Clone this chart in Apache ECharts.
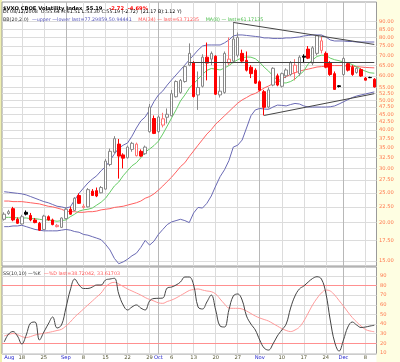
<!DOCTYPE html>
<html><head><meta charset="utf-8">
<script src="https://cdn.jsdelivr.net/npm/echarts@6/dist/echarts.min.js"></script>
<style>html,body{margin:0;padding:0;background:#fff}#c{width:400px;height:362px}</style>
</head><body><div id="c"></div>
<script>
const dates = ['2008-08-12','2008-08-13','2008-08-14','2008-08-15','2008-08-18','2008-08-19','2008-08-20','2008-08-21','2008-08-22','2008-08-25','2008-08-26','2008-08-27','2008-08-28','2008-08-29',
'2008-09-02','2008-09-03','2008-09-04','2008-09-05','2008-09-08','2008-09-09','2008-09-10','2008-09-11','2008-09-12','2008-09-15','2008-09-16','2008-09-17','2008-09-18','2008-09-19','2008-09-22','2008-09-23','2008-09-24','2008-09-25','2008-09-26','2008-09-29','2008-09-30',
'2008-10-01','2008-10-02','2008-10-03','2008-10-06','2008-10-07','2008-10-08','2008-10-09','2008-10-10','2008-10-13','2008-10-14','2008-10-15','2008-10-16','2008-10-17','2008-10-20','2008-10-21','2008-10-22','2008-10-23','2008-10-24','2008-10-27','2008-10-28','2008-10-29','2008-10-30','2008-10-31',
'2008-11-03','2008-11-04','2008-11-05','2008-11-06','2008-11-07','2008-11-10','2008-11-11','2008-11-12','2008-11-13','2008-11-14','2008-11-17','2008-11-18','2008-11-19','2008-11-20','2008-11-21','2008-11-24','2008-11-25','2008-11-26','2008-11-28',
'2008-12-01','2008-12-02','2008-12-03','2008-12-04','2008-12-05','2008-12-08','2008-12-09','2008-12-10'];
const open  = [20.5,21.4,22.2,20.5,19.8,21.6,21.1,20.4,19.9,19.0, 20.9,20.4,19.4,19.3,20.6,22.1,21.9,24.5,22.4,22.5, 25.3,25.4,25.0,25.7,30.9,33.9,36.0,33.2,32.5,34.6, 33.0,34.1,33.5,39.5,43.6,39.5,41.5,44.0,44.5,51.3, 53.0,57.5,65.0,66.2,52.0,55.5,69.0,68.0,69.5,52.0, 53.0,66.0,67.0,70.0,71.0,67.4,64.0,62.6,57.4,53.3, 47.5,56.0,60.0,55.5,60.0,60.6,61.5,61.0,69.5,73.3, 66.0,71.0,72.6,71.0,66.0,61.0,55.7,60.6,65.7,64.0, 61.5,62.9,59.0,59.3,58.5];
const high  = [21.6,22.0,22.5,20.8,21.2,21.9,21.5,20.7,20.1,21.2, 21.1,20.6,19.8,20.8,22.4,22.5,24.2,24.9,23.0,25.9, 25.7,26.0,26.3,32.2,34.8,38.2,37.4,33.6,35.6,36.6, 36.4,34.6,35.6,48.6,44.6,44.6,45.5,47.0,54.0,58.0, 58.6,65.0,76.5,67.0,62.0,70.5,77.0,72.0,70.0,60.0, 72.0,80.0,89.5,83.0,73.0,72.0,65.0,63.5,58.0,54.0, 55.0,64.0,61.0,61.5,63.5,67.0,68.0,70.0,70.5,75.0, 75.0,81.3,80.5,72.0,67.0,62.0,56.0,69.0,66.5,65.0, 64.0,63.5,59.5,59.6,59.0];
const low   = [20.3,21.2,20.2,19.8,19.7,21.1,20.2,19.9,18.8,18.9, 20.3,19.6,19.3,19.2,20.5,21.2,21.8,23.0,22.2,22.4, 24.4,24.2,24.9,25.6,30.5,33.6,27.8,30.0,32.3,34.0, 32.8,32.7,33.2,39.2,38.8,39.2,40.8,42.0,44.3,51.0, 52.5,57.0,64.5,51.0,46.5,55.0,58.0,65.0,52.0,51.0, 52.5,65.0,66.0,69.0,66.0,62.0,59.0,56.5,53.5,44.6, 47.0,55.5,55.5,55.0,59.0,60.0,58.0,60.0,66.0,68.0, 65.0,70.0,71.0,63.5,60.0,54.0,55.0,60.0,62.0,60.0, 61.0,59.5,58.0,59.0,55.0];
const close = [21.3,21.7,20.4,19.9,20.9,21.3,20.4,20.0,18.9,21.0, 20.4,19.7,19.6,20.7,22.1,21.3,24.0,23.1,22.6,25.6, 24.5,24.4,26.0,31.7,34.1,37.5,32.9,32.4,35.2,36.2, 36.0,32.9,35.2,47.5,39.0,44.1,43.5,45.0,52.5,57.5, 58.0,64.3,71.0,51.4,55.0,69.0,66.0,71.0,52.3,53.5, 71.0,68.0,79.0,80.0,67.0,62.6,61.0,56.8,53.9,47.4, 54.0,63.5,56.0,61.0,62.7,66.2,65.0,69.0,69.0,68.5, 74.0,81.0,78.0,64.0,60.6,54.2,55.4,68.3,62.6,60.6, 63.5,59.9,58.1,59.2,55.19];
const bbUpper = [25.2,25.1,25.0,24.9,24.8,24.6,24.3,24.0,23.7,23.4, 23.2,22.9,22.6,22.5,22.3,22.5,23.7,24.9,25.9,26.9, 27.7,28.4,29.5,30.4,31.8,33.4,34.9,35.7,36.3,38.2, 40.6,42.8,44.1,46.5,49.5,52.0,53.6,56.0,58.2,60.4, 62.7,65.1,67.6,70.1,72.8,75.0,75.6,75.6,75.6,75.6, 76.8,78.5,80.9,81.5,81.5,81.2,80.9,80.6,80.3,79.7, 79.7,79.4,79.4,79.4,79.7,79.7,80.0,80.3,80.9,81.2, 81.5,81.5,81.5,80.3,78.5,77.9,77.9,77.9,77.6,77.6, 77.3,77.3,77.3,77.3,77.3];
const bbLower = [19.4,19.4,19.5,19.5,19.6,19.4,19.2,19.0,18.9,18.8, 18.8,18.8,18.8,18.9,19.0,18.9,18.7,18.6,18.3,18.2, 18.0,17.8,17.6,17.0,16.3,15.3,14.7,14.9,15.2,15.6, 15.9,16.6,17.5,16.9,17.4,18.3,19.0,19.7,20.1,20.3, 20.5,20.3,20.0,21.5,22.4,22.3,23.1,24.4,26.3,28.2, 29.7,31.8,35.2,35.7,37.1,40.6,44.5,46.5,47.0,46.8, 46.7,47.5,48.2,48.1,47.9,48.4,48.8,48.6,47.9,47.5, 47.5,47.5,47.5,47.5,47.6,47.9,48.6,49.4,50.2,51.0, 51.6,52.0,52.4,52.8,53.2];
const ma34 = [23.5,23.5,23.4,23.4,23.4,23.3,23.2,23.1,23.0,22.8, 22.6,22.5,22.3,22.1,21.8,21.7,21.7,21.6,21.6,21.7, 21.7,21.8,22.0,22.1,22.2,22.4,22.5,22.6,22.8,23.0, 23.2,23.5,24.0,24.3,24.8,25.5,26.3,27.2,28.1,29.2, 30.4,31.3,32.8,34.2,35.7,37.2,38.8,40.1,41.8,43.1, 44.5,45.9,47.4,48.9,50.1,51.0,52.0,52.6,53.6,54.8, 55.6,56.6,57.7,58.7,59.6,60.7,61.4,62.1,62.7,63.1, 63.6,64.1,64.3,64.5,64.8,64.8,64.8,64.8,64.5,64.4, 64.3,64.1,63.9,63.8,63.7];
const ma8 = [20.8,20.8,20.8,20.7,20.7,20.7,20.6,20.6,20.5,20.4, 20.4,20.3,20.2,20.3,20.4,20.9,21.3,21.8,22.0,22.1, 22.3,22.8,23.3,24.0,25.1,26.3,27.1,28.4,29.5,30.6, 31.3,32.5,33.9,34.7,35.6,36.8,38.8,41.2,43.8,46.5, 49.7,52.0,54.7,56.6,58.6,60.6,62.5,63.4,63.1,62.7, 63.6,64.8,66.4,67.7,68.7,69.1,69.0,68.2,66.4,64.0, 62.2,60.0,58.2,56.9,56.9,57.5,58.6,60.4,62.2,65.6, 67.6,69.4,70.0,70.0,68.5,67.7,67.2,66.6,66.1,65.3, 64.2,63.0,62.1,61.4,61.2];
const stochK = [21.3,29.6,32.2,27.6,19.3,28.6,41.1,42.1,23.4,31.7, 40.0,47.3,35.9,39.0,56.6,75.3,86.7,80.5,76.9,76.9, 78.4,80.5,80.5,85.7,86.7,87.5,71.2,59.8,54.6,57.7, 59.8,56.6,54.6,63.9,66.5,66.7,67.0,77.4,78.4,80.5, 83.6,88.8,88.8,80.5,57.7,55.6,62.9,70.1,54.6,37.9, 36.9,54.6,69.1,71.2,64.9,48.3,40.0,33.8,23.4,15.1, 13.0,19.3,27.6,33.8,40.0,56.6,69.1,76.4,79.5,83.6, 87.3,89.1,86.7,72.2,44.2,21.3,11.9,23.4,36.9,42.1, 39.0,36.4,36.9,37.9,38.7];
const stochD = [27.6,29.1,30.2,29.1,27.0,26.0,27.0,28.6,29.6,30.4, 31.2,32.2,33.3,34.5,37.9,42.1,47.3,51.4,55.6,59.8, 63.9,68.1,72.2,78.4,82.1,83.3,81.6,79.0,76.4,74.3, 72.2,70.1,67.5,65.5,63.9,62.0,61.5,63.4,64.9,67.0, 69.6,72.2,74.8,75.8,76.4,75.3,74.3,73.6,71.2,66.0, 60.8,56.6,56.3,56.3,55.6,53.5,50.9,48.3,46.3,44.7, 43.1,40.5,37.9,35.3,33.3,32.2,33.8,36.9,43.1,51.4, 59.8,66.7,72.2,75.3,74.3,70.1,64.4,58.7,52.5,46.8, 42.1,37.9,34.3,32.8,32.0];
const priceTicks = [15,17.5,20,22.5,25,27.5,30,32.5,35,37.5,40,42.5,45,47.5,50,52.5,55,60,65,70,75,80,85,90];
const stochTicks = [10,20,30,40,50,60,70,80,90];
const stochBands = [20,80];
const xLabels = {'2008-08-12':'Aug','2008-08-18':'18','2008-08-25':'25','2008-09-02':'Sep','2008-09-08':'8','2008-09-15':'15','2008-09-22':'22','2008-09-29':'29','2008-10-01':'Oct','2008-10-06':'6','2008-10-13':'13','2008-10-20':'20','2008-10-27':'27','2008-11-03':'Nov','2008-11-10':'10','2008-11-17':'17','2008-11-24':'24','2008-12-01':'Dec','2008-12-08':'8'};
const monthStarts = ['2008-09-02','2008-10-01','2008-11-03','2008-12-01'];
const trendLines = [
  [['2008-10-24', 89.5], ['2008-12-10', 75.9]],
  [['2008-11-04', 44.6], ['2008-12-10', 52.5]],
  [['2008-10-10', 66.3], ['2008-12-10', 66.3]]
];
const lastClose = 55.19;

const chart = echarts.init(document.getElementById('c'), null, {renderer:'canvas'});
const candleData = dates.map((d,i)=>{
  const o=open[i], c=close[i];
  const prev = i>0 ? close[i-1] : o;
  const down = c < prev;
  const filled = c < o;
  let col;
  if (filled) col = down ? '#ff0000' : '#000000';
  else col = down ? '#ff7070' : '#888888';
  const fill = filled ? col : '#ffffff';
  return {value:[o,c,low[i],high[i]], itemStyle:{color:fill,color0:fill,borderColor:col,borderColor0:col}};
});
const vLines = ()=> Object.keys(xLabels).filter(d=>d!==dates[0]).map(d=>({xAxis: dates.indexOf(d), lineStyle:{color: monthStarts.includes(d)?'#b8b8b8':'#dcdcdc', width:1, type:'solid'}}));
const FONT = 'DejaVu Sans';
const FS = 5.2;
const labelIdx = new Set(Object.keys(xLabels).map(d=>dates.indexOf(d)));

const option = {
  animation:false,
  backgroundColor:'#ffffff',
  textStyle:{fontFamily:FONT},
  graphic:[
    {type:'rect', left:376.5, top:0, shape:{width:24, height:362}, style:{fill:'#fefee2'}, z:-10},
    {type:'rect', left:0, top:0, shape:{width:2, height:362}, style:{fill:'#f0f0b0'}, z:-10},
    {type:'text', left:3, top:2.5, z:10, style:{text:'{b|$VXO CBOE Volatility Index  55.19}  {r|-2.72  -4.69%}', rich:{b:{fontSize:FS,fontWeight:'bold',fill:'#000',fontFamily:FONT}, r:{fontSize:FS,fontWeight:'bold',fill:'#ff0000',fontFamily:FONT}}}},
    {type:'text', left:3, top:9, z:10, style:{text:'Dt 08/12/2008  O:55.64 H:61.51 L:53.30 C:55.19 (-2.72)  (21.17 B):1.12 Y)', fontSize:FS-0.4, fill:'#000', fontFamily:FONT}},
    {type:'text', left:3, top:13.3, z:10, style:{text:'{k|BB(20,2.0)} {b|\u2014upper \u2014lower last=77.29859,50.94441}  {r|MA(34) \u2014 last=63.71235}  {g|MA(8) \u2014 last=61.17135}', rich:{k:{fontSize:FS-0.4,fill:'#333',fontFamily:FONT}, b:{fontSize:FS-0.4,fill:'#5555bb',fontFamily:FONT}, r:{fontSize:FS-0.4,fill:'#ff5555',fontFamily:FONT}, g:{fontSize:FS-0.4,fill:'#44bb44',fontFamily:FONT}}}},
    {type:'text', left:3, top:268, z:10, style:{text:'{k|SS(10,10) \u2014%K} {r|\u2014%D last=38.72042, 33.61703}', rich:{k:{fontSize:FS-0.4,fill:'#333',fontFamily:FONT}, r:{fontSize:FS-0.4,fill:'#ff5555',fontFamily:FONT}}}}
  ],
  grid:[
    {left:2, top:2, width:374.5, height:264, show:true, borderColor:'#9a9a9a', borderWidth:1, backgroundColor:'#ffffff', containLabel:false},
    {left:2, top:267, width:374.5, height:87, show:true, borderColor:'#9a9a9a', borderWidth:1, backgroundColor:'#ffffff', containLabel:false}
  ],
  xAxis:[
    {type:'category', gridIndex:0, data:dates, boundaryGap:true, axisLine:{show:false}, axisTick:{show:false}, axisLabel:{show:false}, splitLine:{show:false}},
    {type:'category', gridIndex:1, data:dates, boundaryGap:true, axisLine:{show:false}, axisTick:{show:false}, splitLine:{show:false},
     axisLabel:{show:true, interval:(i)=>labelIdx.has(i), margin:1.5, alignMinLabel:'left', fontSize:FS, fontFamily:FONT,
       formatter:(v)=>{const t=xLabels[v]; if(!t) return ''; return /^[A-Z]/.test(t) ? '{m|'+t+'}' : '{d|'+t+'}';},
       rich:{m:{color:'#2222cc',fontSize:FS,fontFamily:FONT}, d:{color:'#555533',fontSize:FS,fontFamily:FONT}}}}
  ],
  yAxis:[
    {type:'log', gridIndex:0, position:'right', min:14.45, max:104.3, logBase:10, axisLine:{show:false}, axisTick:{show:false}, splitLine:{show:false},
     axisLabel:{customValues:priceTicks, formatter:(v)=>Number(v).toFixed(2), color:'#ff7a50', fontSize:FS, margin:2.5, fontFamily:FONT}},
    {type:'value', gridIndex:1, position:'right', min:8.9, max:99.2, axisLine:{show:false}, axisTick:{show:false}, splitLine:{show:false},
     axisLabel:{customValues:stochTicks, formatter:(v)=>String(v), color:'#ff7a50', fontSize:FS, margin:3.5, fontFamily:FONT}}
  ],
  series:[
    {type:'line', xAxisIndex:0, yAxisIndex:0, data:ma34, symbol:'none', lineStyle:{color:'#ff6060', width:1}, z:3,
      markLine:{silent:true, symbol:'none', z:1, label:{show:false}, animation:false,
        data: priceTicks.map(v=>({yAxis:v, lineStyle:{color:'#dcdcdc', width:1, type:'solid'}})).concat(vLines())}},
    {type:'line', xAxisIndex:0, yAxisIndex:0, data:bbUpper, symbol:'none', lineStyle:{color:'#6a6ab4', width:1}, z:3},
    {type:'line', xAxisIndex:0, yAxisIndex:0, data:bbLower, symbol:'none', lineStyle:{color:'#6a6ab4', width:1}, z:3},
    {type:'line', xAxisIndex:0, yAxisIndex:0, data:ma8, symbol:'none', lineStyle:{color:'#66cc66', width:1}, z:3},
    {type:'candlestick', xAxisIndex:0, yAxisIndex:0, data:candleData, barWidth:3, z:4,
      markLine:{silent:true, symbol:'none', z:6, animation:false,
        data: trendLines.map(l=>[{coord:l[0], lineStyle:{color:'#444444', width:1, type:'solid'}, label:{show:false}},{coord:l[1]}]).concat([
          {yAxis:lastClose, lineStyle:{opacity:0}, label:{show:true, position:'end', distance:0, formatter:()=>lastClose.toFixed(2), color:'#ffffff', backgroundColor:'#ff0000', fontSize:FS+0.6, fontWeight:'bold', padding:[1,6,1,3], fontFamily:FONT}}])}},
    {type:'line', xAxisIndex:1, yAxisIndex:1, data:stochD, symbol:'none', smooth:0.4, lineStyle:{color:'#ff9a9a', width:1}, z:3,
      markLine:{silent:true, symbol:'none', z:1, label:{show:false}, animation:false,
        data: stochTicks.map(v=>({yAxis:v, lineStyle:{color:'#dcdcdc', width:1, type:'solid'}})).concat(vLines())
          .concat(stochBands.map(v=>({yAxis:v, lineStyle:{color:'#ff9090', width:1, type:'solid'}})))}},
    {type:'line', xAxisIndex:1, yAxisIndex:1, data:stochK, symbol:'none', smooth:0.4, lineStyle:{color:'#444444', width:1}, z:4}
  ]
};
chart.setOption(option);
</script></body></html>
